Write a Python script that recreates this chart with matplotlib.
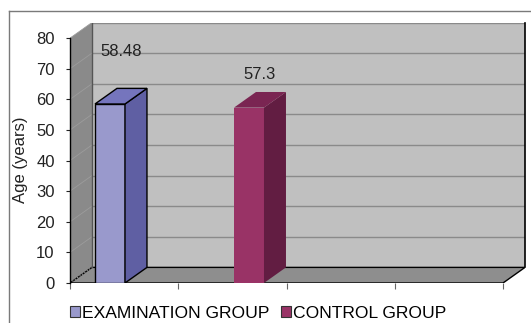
import matplotlib.pyplot as plt
from matplotlib.patches import Polygon, Rectangle, Patch
from matplotlib.lines import Line2D

plt.rcParams['font.family'] = ['Liberation Sans', 'DejaVu Sans']
plt.rcParams['font.size'] = 12

groups = ["EXAMINATION GROUP", "CONTROL GROUP"]
ages = [58.48, 57.3]
labels = ["58.48", "57.3"]
yticks = [0, 10, 20, 30, 40, 50, 60, 70, 80]

front = ["#9999cc", "#993366"]
side = ["#5f5fa3", "#621d42"]
top = ["#7575bd", "#7a2552"]
edges = ["black", "none"]

W, H = 531, 323
fig = plt.figure(figsize=(W / 100, H / 100), dpi=100)

# depth offset of the fake 3d box (data units)
dx, dy = 0.203, 5.1
nslots = 4
ymax = 80
ax = fig.add_axes([70 / W, 40 / H, 455 / W, 260.5 / H])
ax.set_xlim(0, nslots + dx)
ax.set_ylim(0, ymax + dy)
for s in ax.spines.values():
    s.set_visible(False)
ax.set_facecolor("none")

# walls
ax.add_patch(Rectangle((dx, dy), nslots, ymax, fc="#c0c0c0", ec="none", zorder=0))
ax.add_patch(Polygon([(0, 0), (0, ymax), (dx, ymax + dy), (dx, dy)],
                     fc="#8a8a8a", ec="none", zorder=0))
ax.add_patch(Polygon([(0, 0), (nslots, 0), (nslots + dx, dy), (dx, dy)],
                     fc="#8e8e8e", ec="black", lw=1.0, zorder=1))
for v in yticks[1:]:
    ax.plot([dx, nslots + dx], [v + dy, v + dy], color="#8a8a8a", lw=1.0, zorder=1)
    ax.plot([0, dx], [v, v + dy], color="#9c9c9c", lw=0.6, zorder=1)
ax.plot([0, dx], [0, dy], color="#a8a8a8", lw=0.8, ls=":", zorder=1)
ax.plot([dx, dx], [dy, ymax + dy], color="#555555", lw=1.0, zorder=1)
ax.plot([nslots + dx, nslots + dx], [dy, ymax + dy], color="black", lw=1.2,
        zorder=1, clip_on=False)
ax.plot([0, 0], [0, ymax], color="black", lw=1.0, zorder=5, clip_on=False)

# bars
bw = 0.277
for i, v in enumerate(ages):
    x0 = 0.231 + i * 1.284
    ax.add_patch(Rectangle((x0, 0), bw, v, fc=front[i], ec=edges[i], lw=1.0, zorder=3))
    ax.add_patch(Polygon([(x0 + bw, 0), (x0 + bw + dx, dy), (x0 + bw + dx, v + dy), (x0 + bw, v)],
                         fc=side[i], ec=edges[i], lw=1.0, zorder=3))
    ax.add_patch(Polygon([(x0, v), (x0 + dx, v + dy), (x0 + bw + dx, v + dy), (x0 + bw, v)],
                         fc=top[i], ec=edges[i], lw=1.0, zorder=3))

label_dy = [12.0, 5.8]
for i, v in enumerate(ages):
    x0 = 0.231 + i * 1.284
    ax.text(x0 + (bw + dx) / 2, v + dy + label_dy[i], labels[i],
            ha="center", va="center", color="#222222", zorder=6)

ax.set_yticks(yticks)
ax.set_xticks(range(nslots + 1))
ax.set_xticklabels([])
ax.tick_params(axis="y", length=3, pad=8, colors="#222222")
ax.tick_params(axis="x", length=4, color="#666666")

fig.text(21 / W, 1 - 160 / H, "Age (years)", rotation=90, ha="center", va="center",
         color="#222222")

handles = [Patch(fc=front[i], ec="#333333", lw=0.8) for i in range(2)]
fig.legend(handles, groups, loc="center left", bbox_to_anchor=(70 / W, 1 - 313 / H),
           ncol=2, frameon=False, handlelength=0.55, handleheight=0.55,
           handletextpad=0.15, columnspacing=0.65, borderpad=0, borderaxespad=0,
           fontsize=12.6)

# outer chart frame
fig.add_artist(Line2D([9 / W, 1], [1 - 11 / H, 1 - 11 / H], color="#7a7a7a", lw=1.0))
fig.add_artist(Line2D([9 / W, 9 / W], [0, 1 - 11 / H], color="#7a7a7a", lw=1.0))

fig.savefig("out.png", dpi=100)
